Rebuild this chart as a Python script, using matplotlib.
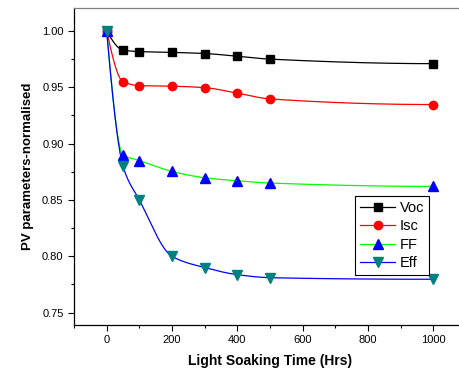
import numpy as np
import matplotlib
matplotlib.use("Agg")
import matplotlib.pyplot as plt
from matplotlib.ticker import MultipleLocator

plt.rcParams['font.family'] = ['Liberation Sans', 'DejaVu Sans']

hours = [0, 50, 100, 200, 300, 400, 500, 1000]
voc = [1.0, 0.983, 0.9817, 0.981, 0.980, 0.9776, 0.975, 0.971]
isc = [1.0, 0.955, 0.9515, 0.951, 0.9497, 0.9448, 0.9397, 0.9347]
ff = [1.0, 0.890, 0.885, 0.8753, 0.8697, 0.867, 0.865, 0.862]
eff = [1.0, 0.880, 0.850, 0.800, 0.790, 0.7837, 0.781, 0.7796]
labels = ['Voc', 'Isc', 'FF', 'Eff']


def pchip(xs, ys, num=800):
    x = np.asarray(xs, float)
    y = np.asarray(ys, float)
    h = np.diff(x)
    delta = np.diff(y) / h
    n = len(x)
    d = np.zeros(n)
    for k in range(1, n - 1):
        if delta[k - 1] * delta[k] <= 0:
            d[k] = 0
        else:
            w1 = 2 * h[k] + h[k - 1]
            w2 = h[k] + 2 * h[k - 1]
            d[k] = (w1 + w2) / (w1 / delta[k - 1] + w2 / delta[k])
    def end(h0, h1, d0, d1):
        dd = ((2 * h0 + h1) * d0 - h0 * d1) / (h0 + h1)
        if np.sign(dd) != np.sign(d0):
            dd = 0
        elif np.sign(d0) != np.sign(d1) and abs(dd) > abs(3 * d0):
            dd = 3 * d0
        return dd
    d[0] = end(h[0], h[1], delta[0], delta[1])
    d[-1] = end(h[-1], h[-2], delta[-1], delta[-2])
    xx = np.linspace(x[0], x[-1], num)
    idx = np.clip(np.searchsorted(x, xx, side='right') - 1, 0, n - 2)
    t = (xx - x[idx]) / h[idx]
    h00 = 2 * t**3 - 3 * t**2 + 1
    h10 = t**3 - 2 * t**2 + t
    h01 = -2 * t**3 + 3 * t**2
    h11 = t**3 - t**2
    yy = h00 * y[idx] + h10 * h[idx] * d[idx] + h01 * y[idx + 1] + h11 * h[idx] * d[idx + 1]
    return xx, yy


fig = plt.figure(figsize=(4.6, 3.74), dpi=100)
ax = fig.add_axes([74 / 460, 1 - 325 / 374, 392 / 460, (325 - 8) / 374])

styles = [
    dict(series=voc, lc='black', mc='black', m='s', ms=5.2),
    dict(series=isc, lc='#ff0000', mc='#ff0000', m='o', ms=6),
    dict(series=ff, lc='#00ff00', mc='#0000ff', m='^', ms=6.5),
    dict(series=eff, lc='#0000ff', mc='#008080', m='v', ms=6.5),
]

for st, lab in zip(styles, labels):
    bx, by = pchip(hours, st['series'])
    ax.plot(bx, by, color=st['lc'], lw=0.9, zorder=2)
    ax.plot(hours, st['series'], ls='none', marker=st['m'], ms=st['ms'],
            mfc=st['mc'], mec=st['mc'], zorder=3)
    ax.plot([], [], color=st['lc'], lw=0.9, marker=st['m'], ms=st['ms'],
            mfc=st['mc'], mec=st['mc'], label=lab)

ax.set_xlim(-100, 1100)
ax.set_ylim(0.739, 1.0204)
ax.xaxis.set_major_locator(MultipleLocator(200))
ax.xaxis.set_minor_locator(MultipleLocator(100))
ax.yaxis.set_major_locator(MultipleLocator(0.05))
ax.yaxis.set_minor_locator(MultipleLocator(0.025))
ax.yaxis.set_major_formatter(plt.FormatStrFormatter('%.2f'))
ax.tick_params(which='both', direction='out', labelsize=8, width=0.8,
               top=False, right=False)
ax.tick_params(which='major', length=4)
ax.tick_params(which='minor', length=2.5)
ax.spines['top'].set_color('#808080')
ax.spines['right'].set_visible(False)
for s in ['left', 'bottom', 'top']:
    ax.spines[s].set_linewidth(0.9)

ax.set_xlabel('Light Soaking Time (Hrs)', fontsize=10, fontweight='bold', labelpad=6)
ax.set_ylabel('PV parameters-normalised', fontsize=9.5, fontweight='bold', labelpad=6)

leg = ax.legend(loc='upper left', bbox_to_anchor=((355 - 74) / 392, (325 - 196) / 317),
                fontsize=10.5, frameon=True, fancybox=False, framealpha=1,
                edgecolor='black', handlelength=2.4, labelspacing=0.3,
                borderpad=0.35, handletextpad=0.3, borderaxespad=0)
leg.get_frame().set_linewidth(0.8)

fig.savefig('out.png', dpi=100)
